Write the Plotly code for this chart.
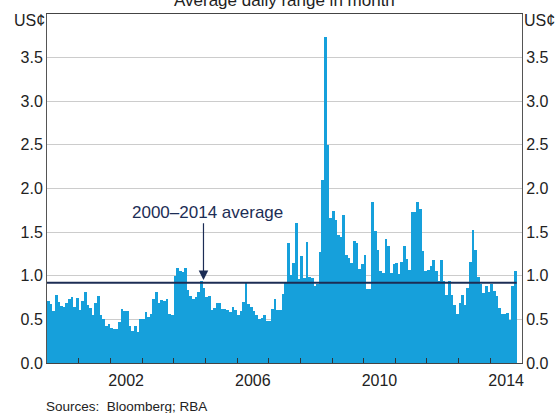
import pandas as pd
import plotly.graph_objects as go

# average daily range of AUD/USD in each month, US cents
r2000 = [0.71, 0.68, 0.60, 0.78, 0.70, 0.65, 0.64, 0.69, 0.73, 0.76, 0.64, 0.75]
r2001 = [0.61, 0.71, 0.81, 0.66, 0.63, 0.55, 0.69, 0.77, 0.55, 0.51, 0.42, 0.45]
r2002 = [0.40, 0.39, 0.39, 0.47, 0.62, 0.60, 0.60, 0.42, 0.37, 0.42, 0.36, 0.50]
r2003 = [0.50, 0.59, 0.53, 0.56, 0.73, 0.81, 0.69, 0.72, 0.71, 0.73, 0.56, 0.55]
r2004 = [1.00, 1.09, 1.05, 1.04, 1.09, 0.84, 0.77, 0.73, 0.76, 0.81, 0.94, 0.86]
r2005 = [0.76, 0.77, 0.61, 0.63, 0.69, 0.69, 0.62, 0.62, 0.61, 0.58, 0.64, 0.61]
r2006 = [0.55, 0.60, 0.70, 0.93, 0.68, 0.64, 0.60, 0.55, 0.50, 0.52, 0.55, 0.48]
r2007 = [0.48, 0.62, 0.73, 0.61, 0.61, 0.79, 0.92, 1.37, 1.01, 1.15, 1.61, 0.96]
r2008 = [1.23, 0.98, 1.39, 0.99, 0.97, 0.88, 0.90, 1.27, 2.10, 3.74, 2.50, 1.66]
r2009 = [1.74, 1.64, 1.47, 1.44, 1.70, 1.24, 1.20, 1.15, 1.40, 1.37, 1.08, 1.13]
r2010 = [1.24, 0.85, 0.85, 1.84, 1.51, 1.29, 1.06, 1.03, 1.42, 1.34, 1.03, 1.13]
r2011 = [1.15, 1.02, 1.16, 1.34, 1.19, 1.07, 1.73, 1.73, 1.84, 1.77, 1.28, 1.06]
r2012 = [1.07, 1.11, 1.18, 1.05, 0.94, 1.18, 0.94, 0.78, 0.94, 0.78, 0.66, 0.56]
r2013 = [0.69, 0.78, 0.67, 0.86, 1.16, 1.52, 1.29, 0.99, 0.90, 0.80, 0.88, 0.81]
r2014 = [0.91, 0.82, 0.77, 0.63, 0.56, 0.56, 0.57, 0.49, 0.88, 1.06]

average = 0.92
year_labels = ["2002", "2006", "2010", "2014"]

values = (r2000 + r2001 + r2002 + r2003 + r2004 + r2005 + r2006 + r2007
          + r2008 + r2009 + r2010 + r2011 + r2012 + r2013 + r2014)
months = pd.date_range("2000-01-01", periods=len(values), freq="MS")
last_end = months[-1] + pd.offsets.MonthBegin(1)

navy = "#1c2d55"
blue = "#16a0db"
font = "Liberation Sans, Arial, sans-serif"

fig = go.Figure()
fig.add_trace(go.Bar(x=months, y=values, xperiod="M1", xperiodalignment="middle",
                     width=31 * 86400000, marker_color=blue, marker_line_width=0,
                     showlegend=False))
fig.add_trace(go.Scatter(x=[months[0], last_end], y=[average, average], mode="lines",
                         line=dict(color=navy, width=2), showlegend=False))
# invisible trace so the label axis is drawn
fig.add_trace(go.Scatter(x=[months[0]], y=[None], xaxis="x2", yaxis="y2",
                         showlegend=False))

ticks = [0, 0.5, 1, 1.5, 2, 2.5, 3, 3.5]
fig.update_layout(
    width=560, height=413,
    margin=dict(l=47, r=38, t=14, b=50, autoexpand=False),
    plot_bgcolor="white", paper_bgcolor="white",
    font=dict(family=font, size=16, color="#222"),
    bargap=0,
    xaxis=dict(type="date", range=["2000-01-01", "2015-01-01"], dtick="M12",
               tick0="2000-01-01", ticks="inside", ticklen=5, tickcolor="#333",
               showticklabels=False, showgrid=False, showline=True,
               linecolor="#444", linewidth=1, mirror=True, automargin=False),
    xaxis2=dict(type="date", overlaying="x", side="bottom",
                range=["2000-01-01", "2015-01-01"],
                tickvals=[y + "-07-02" for y in year_labels], ticktext=year_labels,
                ticks="", ticklabelstandoff=6, showgrid=False, showline=False,
                automargin=False),
    yaxis=dict(range=[0, 4], tickvals=ticks, tickformat=".1f", showgrid=True,
               gridcolor="#cccccc", zeroline=False, showline=True, linecolor="#555",
               ticks="", automargin=False),
    yaxis2=dict(range=[0, 4], tickvals=ticks, tickformat=".1f", overlaying="y",
                side="right", showgrid=False, zeroline=False, showline=True,
                linecolor="#555", ticks="", ticklabelstandoff=0, automargin=False),
)

fig.add_annotation(text="Average daily range in month", xref="paper", yref="paper",
                   x=0.5, y=1, yanchor="bottom", yshift=2, showarrow=False,
                   font=dict(size=17))
fig.add_annotation(text="US¢", xref="paper", yref="y", x=0, y=4, xanchor="right",
                   yanchor="middle", xshift=0, yshift=-6, showarrow=False)
fig.add_annotation(text="US¢", xref="paper", yref="y", x=1, y=4, xanchor="left",
                   yanchor="middle", xshift=0, yshift=-6, showarrow=False)
fig.add_annotation(text="2000–2014 average", x="2005-01-22", y=1.72, showarrow=False,
                   font=dict(size=17, color=navy))
fig.add_annotation(text="", x="2004-12-10", y=0.95, ax="2004-12-10", ay=1.62,
                   axref="x", ayref="y", showarrow=True, arrowhead=2, arrowsize=1.6,
                   arrowwidth=1.2, arrowcolor=navy)
fig.add_annotation(text="Sources:  Bloomberg; RBA", xref="paper", yref="paper",
                   x=0, y=0, xanchor="left", yanchor="top", xshift=-3, yshift=-34,
                   showarrow=False, font=dict(size=13.5))

fig.write_html("out.html", config={"displayModeBar": False},
               post_script="document.body.style.margin='0';")
